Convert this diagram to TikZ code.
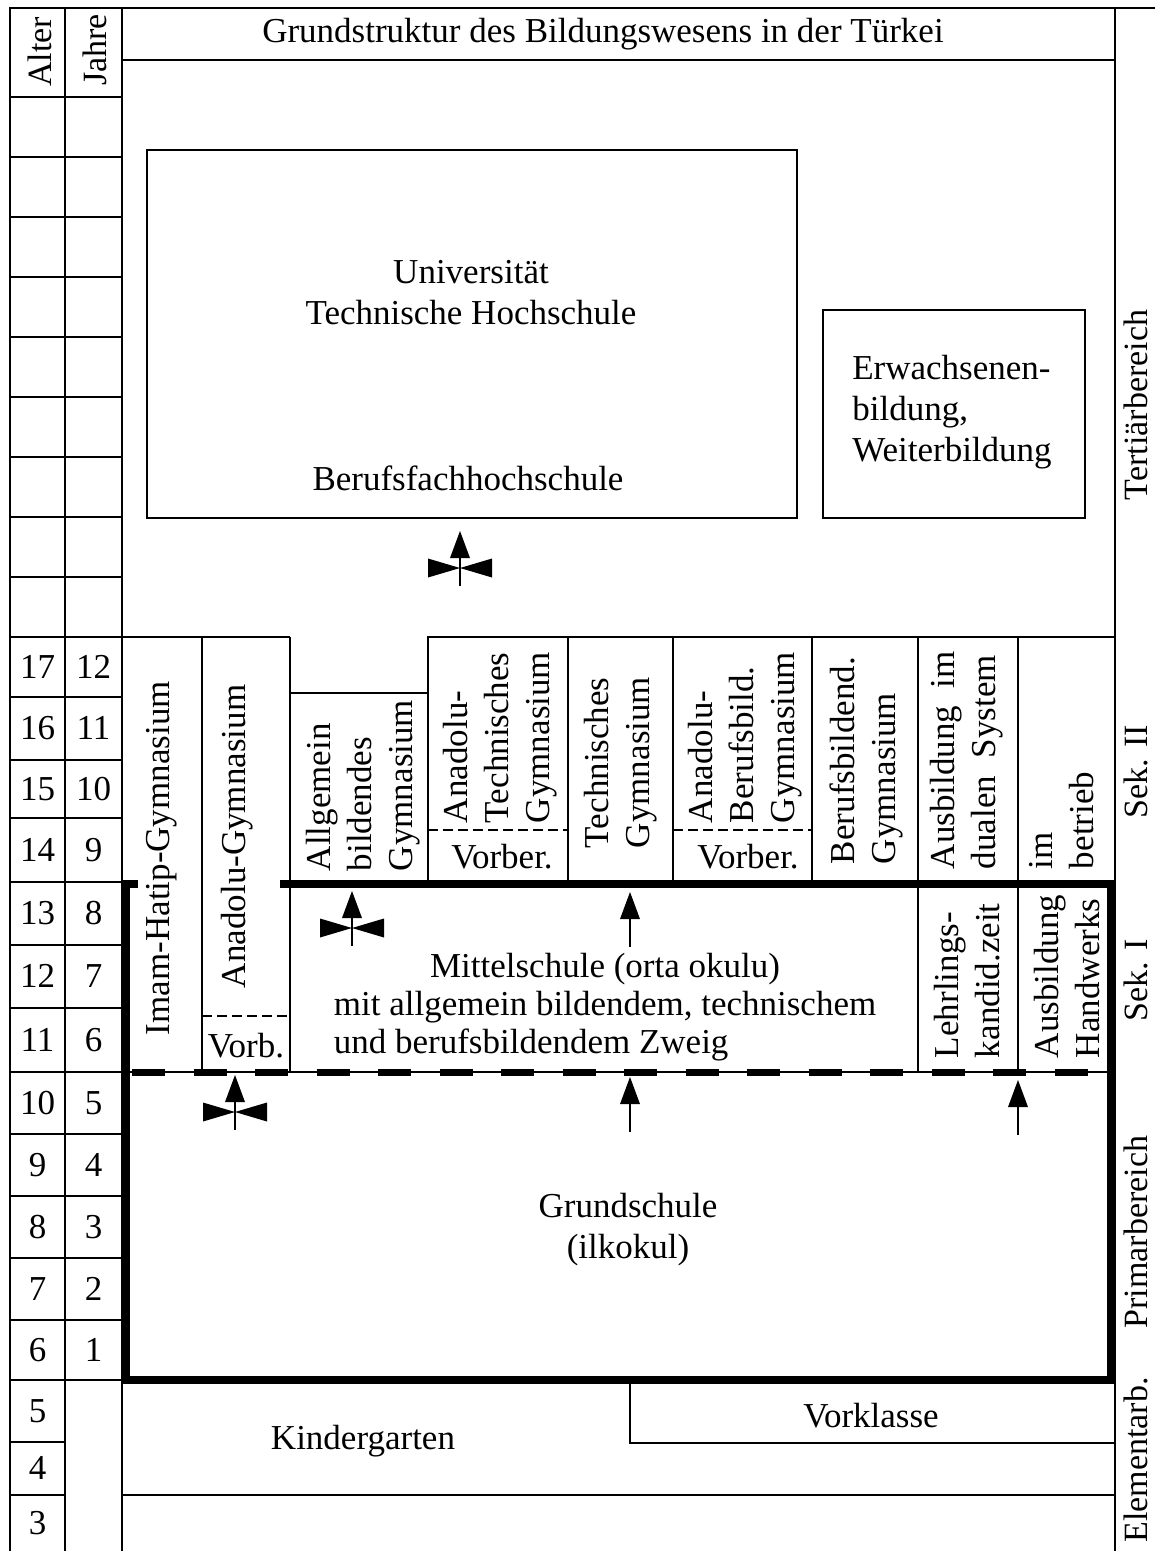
\documentclass[tikz,border=0pt]{standalone}
\usepackage{fontspec}
\setmainfont{Liberation Serif}
\begin{document}
\begin{tikzpicture}[x=1pt,y=-1pt,
  every node/.style={font=\fontsize{35}{41}\selectfont, inner sep=0pt, outer sep=0pt},
  gridline/.style={line width=2pt},
  heavyline/.style={line width=8pt},
  sepdash/.style={line width=1.8pt, dash pattern=on 10pt off 5pt},
  boxnode/.style={draw, line width=2pt, inner sep=0pt},
  vtext/.style={rotate=90, align=left, anchor=west},
  sidelabel/.style={rotate=90, font=\fontsize{34}{40}\selectfont},
  bowarrow/.pic={
    \fill (0,0) -- (-10,27) -- (10,27) -- cycle;
    \draw[line width=2pt] (0,20) -- (0,55);
    \fill (0,37) -- (-32,27.5) -- (-32,46.5) -- cycle;
    \fill (0,37) -- (32,27.5) -- (32,46.5) -- cycle;
  },
  uparrow/.pic={
    \fill (0,0) -- (-10,27) -- (10,27) -- cycle;
    \draw[line width=2pt] (0,20) -- (0,55);
  },
]
\useasboundingbox (0,0) rectangle (1155,1551);
\fill[white] (0,0) rectangle (1155,1551);

% frame and age columns
\draw[gridline] (10,1551) -- (10,8) -- (1155,8);
\draw[gridline] (65,8) -- (65,1551);
\draw[gridline] (122,8) -- (122,1551);
\draw[gridline] (1115,8) -- (1115,1551);
\draw[gridline] (122,60) -- (1115,60);
\draw[gridline] (10,97) -- (122,97);
\foreach \yy in {157,217,277,337,397,457,517,577} \draw[gridline] (10,\yy) -- (122,\yy);
\draw[gridline] (10,637) -- (290,637);
\foreach \yy in {697,760,818,882,945,1008,1072,1134,1196,1258,1320,1380} \draw[gridline] (10,\yy) -- (122,\yy);
\foreach \yy in {1442,1495} \draw[gridline] (10,\yy) -- (65,\yy);

% secondary columns
\draw[gridline] (290,637) -- (290,1072);
\draw[gridline] (290,693) -- (428,693);
\draw[gridline] (428,882) -- (428,637) -- (1115,637);
\foreach \xx in {568,673,812} \draw[gridline] (\xx,637) -- (\xx,882);
\foreach \xx in {202,918,1018} \draw[gridline] (\xx,637) -- (\xx,1072);
\draw[sepdash] (202,1016) -- (290,1016);
\draw[sepdash] (428,830) -- (568,830);
\draw[sepdash] (673,830) -- (812,830);
\draw[gridline] (126,1072) -- (1111,1072);
\draw[gridline] (122,1495) -- (1115,1495);

% boxes
\node[boxnode, minimum width=650pt, minimum height=368pt] (uni) at (472,334) {};
\node[boxnode, minimum width=262pt, minimum height=208pt] (erw) at (954,414) {};
\node[boxnode, minimum width=485pt, minimum height=63pt] (vork) at (872.5,1411.5) {};

% heavy frame of compulsory school
\draw[heavyline] (138,884) -| (126,1380) -| (1111,884) -- (280,884);
\draw[line width=7pt, dash pattern=on 33pt off 28.5pt] (132,1072) -- (1110,1072);

% header texts
\node (title) at (603,34) {Grundstruktur des Bildungswesens in der Türkei};
\node[sidelabel] (alter) at (40,52) {Alter};
\node[sidelabel] (jahre) at (95,50) {Jahre};

% age numbers
\foreach \a/\j/\yy in {17/12/667,16/11/728,15/10/789,14/9/850,13/8/913,12/7/976,11/6/1040,10/5/1103,9/4/1165,8/3/1227,7/2/1289,6/1/1350}{
  \node (alt\a) at (37.5,\yy) {\a};
  \node (jhr\j) at (93.5,\yy) {\j};
}
\node (alt5) at (37.5,1411) {5};
\node (alt4) at (37.5,1468) {4};
\node (alt3) at (37.5,1523) {3};

% tertiary
\node[align=center] (unitext) at (471,293) {Universität\\Technische Hochschule};
\node (bfh) at (468,478) {Berufsfachhochschule};
\node[align=left] (erwtext) at (952,412) {Erwachsenen-\\bildung,\\Weiterbildung};

% secondary II
\node[vtext] (imam) at (162,1035) {Imam-Hatip-Gymnasium};
\node[vtext] (anadolu) at (237,988) {Anadolu-Gymnasium};
\node (vorb1) at (246,1046) {Vorb.};
\node[vtext] (allg) at (363,871) {Allgemein\\bildendes\\Gymnasium};
\node[vtext] (anatech) at (500,823) {Anadolu-\\Technisches\\Gymnasium};
\node (vorb2) at (502,857) {Vorber.};
\node[vtext] (tech) at (621,848) {Technisches\\Gymnasium};
\node[vtext] (anaberuf) at (745,823) {Anadolu-\\Berufsbild.\\Gymnasium};
\node (vorb3) at (748,857) {Vorber.};
\node[vtext] (beruf) at (866,864) {Berufsbildend.\\Gymnasium};
\node[vtext] (dual) at (967,869) {Ausbildung\ \ im\\dualen\ \ System};
\node[vtext] (betrieb) at (1062,869) {im\\betrieb};

% secondary I
\node (mittel) at (605,1008) {\fontsize{35}{38}\selectfont\begin{tabular}{@{}l@{}}\multicolumn{1}{@{}c@{}}{Mittelschule (orta okulu)}\\mit allgemein bildendem, technischem\\und berufsbildendem Zweig\end{tabular}};
\node[vtext] (lehr) at (967,1058) {Lehrlings-\\kandid.zeit};
\node[vtext] (handw) at (1067,1058) {Ausbildung\\Handwerks};

% primary and elementary
\node[align=center] (grund) at (628,1230) {Grundschule\\(ilkokul)};
\node (kinder) at (363,1441) {Kindergarten};
\node (vorkt) at (871,1416) {Vorklasse};

% arrows
\pic at (460,531) {bowarrow};
\pic at (352,891) {bowarrow};
\pic at (630,892) {uparrow};
\pic at (235,1075) {bowarrow};
\pic at (630,1077) {uparrow};
\pic at (1018,1080) {uparrow};

% right labels
\node[sidelabel] (tert) at (1136,405) {Tertiärbereich};
\node[sidelabel] (sek2) at (1136,772) {Sek. II};
\node[sidelabel] (sek1) at (1136,980) {Sek. I};
\node[sidelabel] (prim) at (1136,1232) {Primarbereich};
\node[sidelabel] (elem) at (1136,1460) {Elementarb.};
\end{tikzpicture}
\end{document}
